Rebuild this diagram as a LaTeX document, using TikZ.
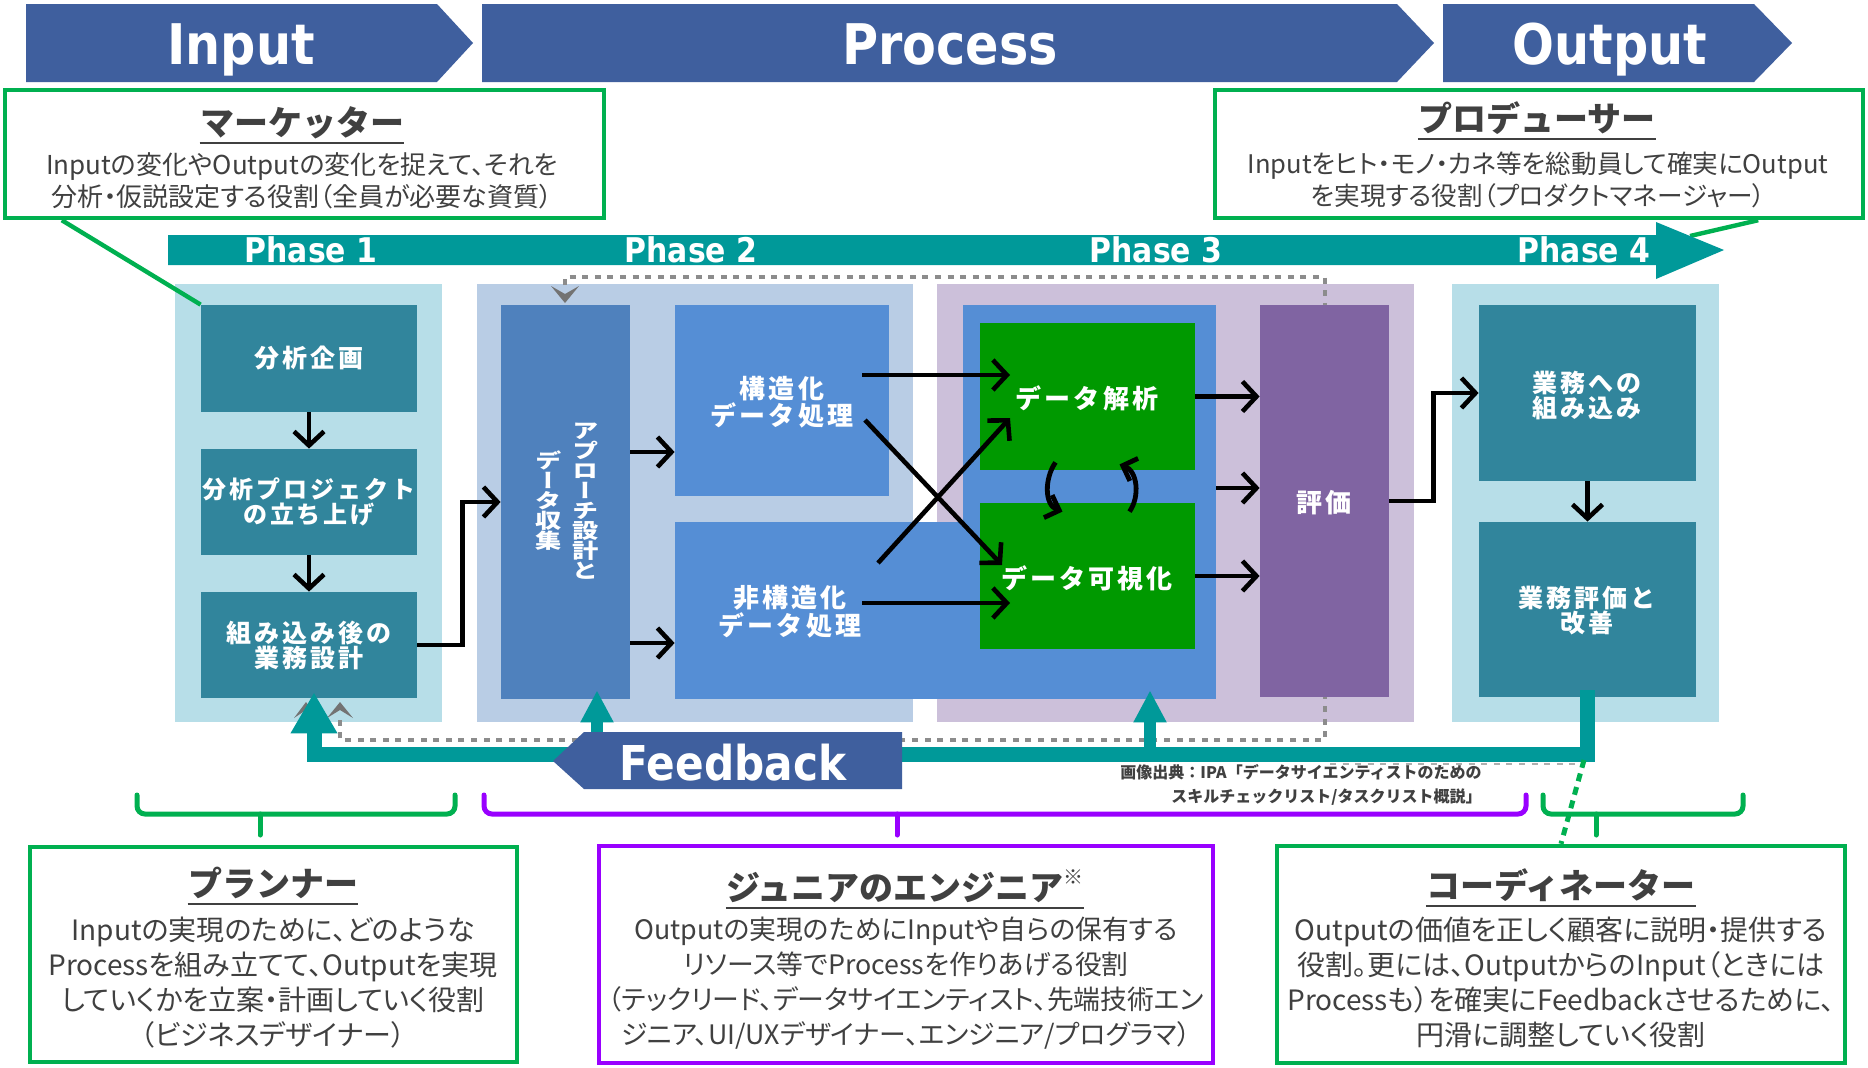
\documentclass[tikz,border=0pt]{standalone}
\usepackage{fontspec}
\usepackage{graphicx}
\setmainfont{Noto Sans CJK JP}
\newfontfamily\hdfont{DejaVu Sans}[FakeStretch=0.88]
\newfontfamily\bxfont{Noto Sans CJK JP}[LetterSpace=12]
\newfontfamily\bdfont{Noto Sans CJK JP}[RawFeature=+palt]
\newfontfamily\vtfont{Noto Sans CJK JP}[RawFeature=+vert]
\usetikzlibrary{arrows.meta,calc,fit}
\newcommand\vch[1]{\scalebox{1.05}[0.82]{#1}}
\newcommand\vstk[1]{\vbox{\baselineskip=10pt\lineskiplimit=-30pt\lineskip=0pt\halign{\hfil##\hfil\cr #1\crcr}}}
\definecolor{chev}{RGB}{63,95,158}
\definecolor{teal2}{RGB}{0,153,153}
\definecolor{lb}{RGB}{183,222,232}
\definecolor{p2bg}{RGB}{185,205,229}
\definecolor{p3bg}{RGB}{204,192,218}
\definecolor{tbox}{RGB}{49,133,156}
\definecolor{abox}{RGB}{79,129,189}
\definecolor{sbox}{RGB}{85,142,213}
\definecolor{gbox}{RGB}{0,153,0}
\definecolor{ebox}{RGB}{128,100,162}
\definecolor{gfr}{RGB}{0,176,80}
\definecolor{pfr}{RGB}{153,0,255}
\definecolor{txt}{RGB}{64,64,64}
\definecolor{dotg}{RGB}{140,140,140}
\begin{document}
\begin{tikzpicture}[x=0.5pt,y=-0.5pt,
  hd/.style={text=white, font=\hdfont\bfseries\fontsize{28}{30}\selectfont, anchor=base, inner sep=0pt},
  ph/.style={text=white, font=\hdfont\bfseries\fontsize{17}{18}\selectfont, anchor=base, inner sep=0pt},
  area/.style={fill=#1, draw=none, inner sep=0pt},
  wt/.style={text=white, font=\bxfont\bfseries\fontsize{12.5}{12.5}\selectfont, align=center, inner sep=0pt},
  wtl/.style={text=white, font=\bxfont\bfseries\fontsize{13}{12.5}\selectfont, align=center, inner sep=0pt},
  vt/.style={text=white, font=\vtfont\bfseries\fontsize{12.5}{10}\selectfont, inner sep=0pt},
  arr/.style={draw=black, line width=2.3pt, -{Straight Barb[length=7pt,width=15pt]}},
  arrc/.style={draw=black, line width=2.4pt, -{Straight Barb[length=6pt,width=12pt]}},
  rframe/.style={draw=#1, line width=2.2pt, inner sep=0pt},
  ttl/.style={text=txt, font=\bfseries\fontsize{17}{18}\selectfont, anchor=base, inner sep=0pt},
  body/.style={text=txt, font=\bdfont\fontsize{13}{16}\selectfont, align=center, inner sep=0pt},
  bodyb/.style={text=txt, font=\bdfont\fontsize{14}{17.5}\selectfont, align=center, inner sep=0pt},
  ul/.style={draw=txt, line width=1.4pt},
  dotln/.style={draw=dotg, line width=2pt, dash pattern=on 3pt off 3.3pt},
  gch/.style={fill=gray!90!black},
  fbl/.style={draw=teal2, line width=7.5pt},
  fbs/.style={draw=teal2, line width=6pt, -{Triangle[length=16pt 0 0,width=15.5pt 0 0]}},
  gln/.style={draw=gfr, line width=2.2pt},
  brc/.style={draw=#1, line width=2.5pt, rounded corners=4pt, line cap=round},
  srccap/.style={text=txt, font=\bfseries\fontsize{8}{12}\selectfont, align=right, inner sep=0pt}
]
\useasboundingbox (0,0) rectangle (1868,1067);
\fill[white] (0,0) rectangle (1868,1067);

% top chevrons
\fill[chev] (26,4) -- (437,4) -- (473,43) -- (437,82) -- (26,82) -- cycle;
\fill[chev] (482,4) -- (1397,4) -- (1434,43) -- (1397,82) -- (482,82) -- cycle;
\fill[chev] (1443,4) -- (1754,4) -- (1792,43) -- (1754,82) -- (1443,82) -- cycle;
\node[hd] (tin) at (241,64) {Input};
\node[hd] (tpr) at (950,64) {Process};
\node[hd] (tout) at (1610,64) {Output};

% top role boxes
\node[rframe=gfr, fit={(5,90) (604,218)}] (mk) {};
\node[ttl] (mkT) at (302,135) {マーケッター};
\draw[ul] ([yshift=-4pt]mkT.base west) -- ([yshift=-4pt]mkT.base east);
\node[body] (mkB) at (302,181) {Inputの変化やOutputの変化を捉えて、それを\\分析・仮説設定する役割（全員が必要な資質）};

\node[rframe=gfr, fit={(1215,90) (1863,218)}] (pr) {};
\node[ttl] (prT) at (1537,131) {プロデューサー};
\draw[ul] ([yshift=-4pt]prT.base west) -- ([yshift=-4pt]prT.base east);
\node[body, font=\bdfont\fontsize{12.8}{16}\selectfont] (prB) at (1538,180) {Inputをヒト・モノ・カネ等を総動員して確実にOutput\\を実現する役割（プロダクトマネージャー）};

\coordinate (pha) at (1690,236);
\draw[gln] ([xshift=-53.5pt]pr.south east) -- (pha);

% phase arrow
\fill[teal2] (168,235) -- (1656,235) -- (1656,222) -- (1724,250) -- (1656,279) -- (1656,265) -- (168,265) -- cycle;
\node[ph] (ph1) at (311,262) {Phase 1};
\node[ph] (ph2) at (691,262) {Phase 2};
\node[ph] (ph3) at (1156,262) {Phase 3};
\node[ph] (ph4) at (1584,262) {Phase 4};

% phase backgrounds
\node[area=lb, fit={(175,284) (442,722)}] (p1) {};
\node[area=p2bg, fit={(477,284) (913,722)}] (p2) {};
\node[area=p3bg, fit={(937,284) (1414,722)}] (p3) {};
\node[area=lb, fit={(1452,284) (1719,722)}] (p4) {};

% dotted loop
\draw[dotln] (565,285) -- (565,277) -- (1325,277) -- (1325,740) -- (340,740) -- (340,720);
\draw[dotln, line width=1.2pt, draw=dotg!70] (1330,764) -- (1578,764);
\fill[gch] (551,286) -- (565,294) -- (579,286) -- (565,303) -- cycle;
\fill[gch] (327,718) -- (340,710) -- (353,718) -- (340,702) -- cycle;
\fill[gch] (294,718) -- (306,710) -- (318,718) -- (306,702) -- cycle;

% marketer connector
\node[area=tbox, fit={(201,305) (417,412)}] (b11) {};
\draw[gln] ([xshift=29.5pt]mk.south west) -- (b11.north west);

% phase 1 boxes
\node[wt] (b11t) at (b11.center) {分析企画};
\node[area=tbox, fit={(201,449) (417,555)}] (b12) {};
\node[wt, font=\bxfont\bfseries\fontsize{12}{12.5}\selectfont] (b12t) at (b12.center) {分析プロジェクト\\の立ち上げ};
\node[area=tbox, fit={(201,592) (417,698)}] (b13) {};
\node[wt] (b13t) at (b13.center) {組み込み後の\\業務設計};

% phase 2 boxes
\node[area=abox, fit={(501,305) (630,699)}] (app) {};
\node[vt] (appR) at (586,501) {\vstk{\vch{ア}\cr\vch{プ}\cr\vch{ロ}\cr\vch{ー}\cr\vch{チ}\cr\vch{設}\cr\vch{計}\cr\vch{と}}};
\node[vt] (appL) at (549,501) {\vstk{\vch{デ}\cr\vch{ー}\cr\vch{タ}\cr\vch{収}\cr\vch{集}}};
\node[area=sbox, fit={(675,305) (889,496)}] (str) {};
\node[wtl] (strt) at (782,402) {構造化\\データ処理};
\node[area=sbox, fit={(675,522) (975,699)}] (uns) {};
\node[wtl] (unst) at (790,612) {非構造化\\データ処理};

% phase 3 boxes
\node[area=sbox, fit={(963,305) (1216,699)}] (blu) {};
\node[area=gbox, fit={(980,323) (1195,470)}] (ana) {};
\node[wtl] (anat) at (1087,398) {データ解析};
\node[area=gbox, fit={(980,503) (1195,649)}] (vis) {};
\node[wtl] (vist) at (1087,578) {データ可視化};
\node[area=ebox, fit={(1260,305) (1389,697)}] (ev) {};
\node[wtl] (evt) at (1324,503) {評価};

% phase 4 boxes
\node[area=tbox, fit={(1479,305) (1696,481)}] (b41) {};
\node[wt] (b41t) at (1587,395) {業務への\\組み込み};
\node[area=tbox, fit={(1479,522) (1696,697)}] (b42) {};
\node[wt] (b42t) at (1587,611) {業務評価と\\改善};

% black connectors
\draw[arr] (b11.south) -- (b12.north);
\draw[arr] (b12.south) -- (b13.north);
\draw[arr] (b13.east) -- +(45,0) |- (app.west);
\draw[arr] (app.east |- 0,452) -- (str.west |- 0,452);
\draw[arr] (app.east |- 0,643) -- (uns.west |- 0,643);
\coordinate (sA) at (862,375); \coordinate (aA) at (1010,375);
\coordinate (sB) at (865,420); \coordinate (vB) at (1002,565);
\coordinate (uA) at (878,563); \coordinate (aB) at (1010,418);
\coordinate (uB) at (862,603); \coordinate (vA) at (1010,603);
\draw[arr] (sA) -- (aA);
\draw[arr] (sB) -- (vB);
\draw[arr] (uA) -- (aB);
\draw[arr] (uB) -- (vA);
\draw[arrc] ([xshift=-16pt,yshift=4pt]ana.south) to[out=235,in=160] ([xshift=-12.5pt,yshift=-4.5pt]vis.north);
\draw[arrc] ([xshift=21pt,yshift=-4.5pt]vis.north) to[out=55,in=-20] ([xshift=16pt,yshift=3pt]ana.south);
\draw[arr] (ana.east) -- (ev.west |- ana.east);
\draw[arr] (blu.east |- 0,488) -- (ev.west |- 0,488);
\draw[arr] (vis.east) -- (ev.west |- vis.east);
\draw[arr] (ev.east) -- +(44,0) |- (b41.west);
\draw[arr] (b41.south) -- (b42.north);

% feedback loop
\draw[fbl, -{Triangle[length=20.5pt 0 0,width=22pt 0 0]}] ([yshift=3.5pt]b42.south) -- (b42.south |- 0,754) -- (314,754) -- ([xshift=2.5pt,yshift=3pt]b13.south);
\coordinate (fa2) at ([xshift=15.75pt,yshift=4.5pt]app.south);
\coordinate (fa3) at ([xshift=30.25pt,yshift=4.5pt]blu.south);
\draw[fbs] (fa2 |- 0,754) -- (fa2);
\draw[fbs] (fa3 |- 0,754) -- (fa3);

\fill[chev] (553,761) -- (584,732) -- (902,732) -- (902,789) -- (584,789) -- cycle;
\node[hd, font=\hdfont\bfseries\fontsize{24}{26}\selectfont] (fbk) at (733,780) {Feedback};

% source caption
\node[srccap, anchor=east] (src) at (1482,785) {画像出典：IPA「データサイエンティストのための\\スキルチェックリスト/タスクリスト概説」};

% braces
\draw[brc=gfr] (137,795) -- (137,814) -- (455,814) -- (455,795);
\draw[brc=gfr] (260,814) -- (260,835);
\draw[brc=pfr] (484,795) -- (484,814) -- (1526,814) -- (1526,795);
\draw[brc=pfr] (897,814) -- (897,835);
\draw[brc=gfr] (1543,795) -- (1543,814) -- (1743,814) -- (1743,795);
\draw[brc=gfr] (1596,814) -- (1596,835);

% bottom role boxes
\node[rframe=gfr, fit={(30,847) (517,1062)}] (pl) {};
\node[ttl] (plT) at (273,896) {プランナー};
\draw[ul] ([yshift=-4pt]plT.base west) -- ([yshift=-4pt]plT.base east);
\node[bodyb] (plB) at (273,983) {Inputの実現のために、どのような\\Processを組み立てて、Outputを実現\\していくかを立案・計画していく役割\\（ビジネスデザイナー）};

\node[rframe=pfr, fit={(599,846) (1213,1063)}] (jn) {};
\node[ttl] (jnT) at (905,900) {ジュニアのエンジニア\raisebox{0.45em}{\fontsize{10}{10}\selectfont ※}};
\draw[ul] ([yshift=-4pt]jnT.base west) -- ([yshift=-4pt]jnT.base east);
\node[bodyb, font=\bdfont\fontsize{13.4}{17.5}\selectfont] (jnB) at (906,983) {Outputの実現のためにInputや自らの保有する\\リソース等でProcessを作りあげる役割\\（テックリード、データサイエンティスト、先端技術エン\\ジニア、UI/UXデザイナー、エンジニア/プログラマ）};

\node[rframe=gfr, fit={(1277,846) (1845,1063)}] (crd) {};
\node[ttl] (crT) at (1561,898) {コーディネーター};
\draw[ul] ([yshift=-4pt]crT.base west) -- ([yshift=-4pt]crT.base east);
\node[bodyb] (crB) at (1561,982) {Outputの価値を正しく顧客に説明・提供する\\役割。更には、OutputからのInput（ときには\\Processも）を確実にFeedbackさせるために、\\円滑に調整していく役割};

\coordinate (fbr) at (1584,760);
\draw[gln, line width=2.5pt, dash pattern=on 4pt off 3pt] (fbr) -- (crd.north);
\end{tikzpicture}
\end{document}
